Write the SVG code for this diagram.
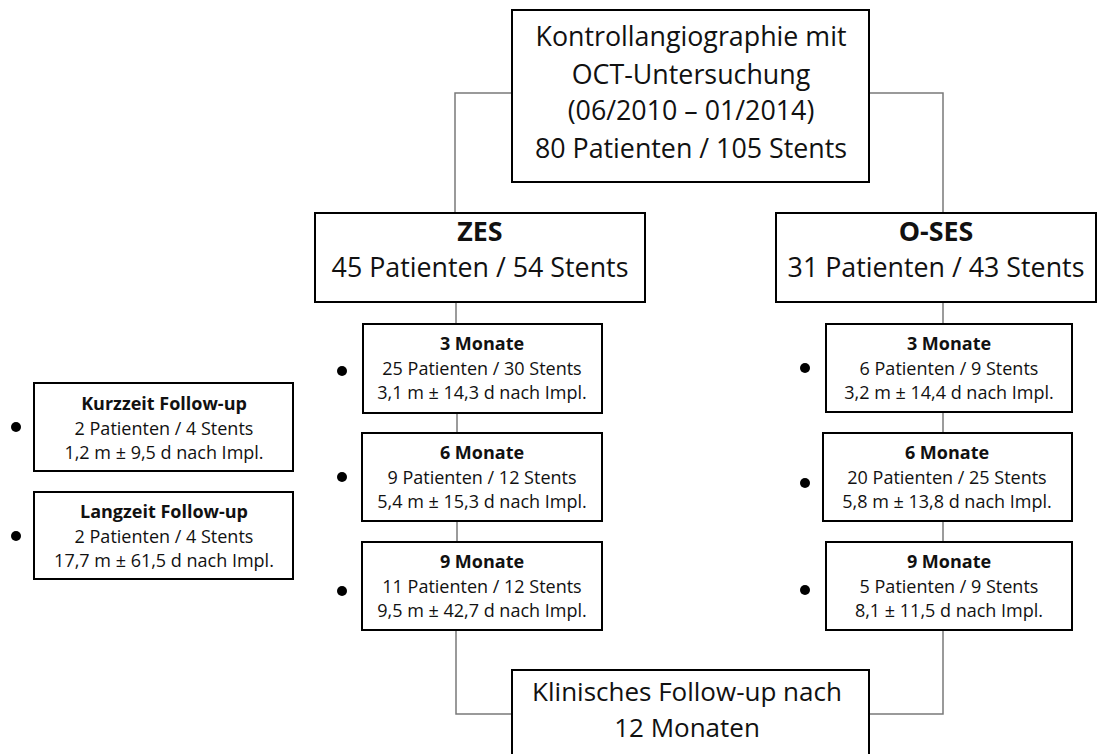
<svg xmlns="http://www.w3.org/2000/svg" width="1101" height="754" viewBox="0 0 1101 754">
<style>
.box{fill:#fff;stroke:#000;stroke-width:2}
.con{fill:none;stroke:#7a7a7a;stroke-width:1.5}
text{font-family:"Open Sans","Noto Sans",sans-serif;fill:#111;text-anchor:middle}
.big{font-size:26.8px}
.bot{font-size:26px}
.sm{font-size:18px}
.b{font-weight:bold}
.dot{fill:#000}
</style>
<rect width="1101" height="754" fill="#fff"/>
<g id="connectors">
<polyline class="con" points="512,93 455,93 455,213"/>
<polyline class="con" points="869,93 943,93 943,213"/>
<line class="con" x1="456" y1="302" x2="456" y2="324"/>
<line class="con" x1="457" y1="413" x2="457" y2="433"/>
<line class="con" x1="457" y1="521" x2="457" y2="542"/>
<polyline class="con" points="456,630 456,714 512,714"/>
<line class="con" x1="943" y1="302" x2="943" y2="324"/>
<line class="con" x1="943" y1="412" x2="943" y2="433"/>
<line class="con" x1="943" y1="521" x2="943" y2="542"/>
<polyline class="con" points="943,630 943,714 869,714"/>
</g>
<g id="top">
<rect class="box" x="512" y="10" width="357" height="172"/>
<text class="big" x="691" y="46">Kontrollangiographie mit</text>
<text class="big" x="691" y="84">OCT-Untersuchung</text>
<text class="big" x="691" y="120">(06/2010 – 01/2014)</text>
<text class="big" x="691" y="158">80 Patienten / 105 Stents</text>
</g>
<g id="zes">
<rect class="box" x="315" y="213" width="330" height="89"/>
<text class="big b" x="480" y="241">ZES</text>
<text class="big" x="480" y="277">45 Patienten / 54 Stents</text>
</g>
<g id="oses">
<rect class="box" x="776" y="213" width="320" height="89"/>
<text class="big b" x="936" y="241">O-SES</text>
<text class="big" x="936" y="277">31 Patienten / 43 Stents</text>
</g>
<g id="zes3">
<circle class="dot" cx="342" cy="371" r="5"/>
<rect class="box" x="363" y="324" width="239" height="89"/>
<text class="sm b" x="482" y="350">3 Monate</text>
<text class="sm" x="482" y="375">25 Patienten / 30 Stents</text>
<text class="sm" x="482" y="399">3,1 m ± 14,3 d nach Impl.</text>
</g>
<g id="zes6">
<circle class="dot" cx="342" cy="477" r="5"/>
<rect class="box" x="362" y="433" width="240" height="88"/>
<text class="sm b" x="482" y="459">6 Monate</text>
<text class="sm" x="482" y="484">9 Patienten / 12 Stents</text>
<text class="sm" x="482" y="508">5,4 m ± 15,3 d nach Impl.</text>
</g>
<g id="zes9">
<circle class="dot" cx="342" cy="591" r="5"/>
<rect class="box" x="362" y="542" width="240" height="88"/>
<text class="sm b" x="482" y="568">9 Monate</text>
<text class="sm" x="482" y="593">11 Patienten / 12 Stents</text>
<text class="sm" x="482" y="617">9,5 m ± 42,7 d nach Impl.</text>
</g>
<g id="oses3">
<circle class="dot" cx="805" cy="368" r="5"/>
<rect class="box" x="826" y="324" width="246" height="88"/>
<text class="sm b" x="949" y="350">3 Monate</text>
<text class="sm" x="949" y="375">6 Patienten / 9 Stents</text>
<text class="sm" x="949" y="399">3,2 m ± 14,4 d nach Impl.</text>
</g>
<g id="oses6">
<circle class="dot" cx="805" cy="483" r="5"/>
<rect class="box" x="823" y="433" width="249" height="88"/>
<text class="sm b" x="947" y="459">6 Monate</text>
<text class="sm" x="947" y="484">20 Patienten / 25 Stents</text>
<text class="sm" x="947" y="508">5,8 m ± 13,8 d nach Impl.</text>
</g>
<g id="oses9">
<circle class="dot" cx="805" cy="590" r="5"/>
<rect class="box" x="826" y="542" width="246" height="88"/>
<text class="sm b" x="949" y="568">9 Monate</text>
<text class="sm" x="949" y="593">5 Patienten / 9 Stents</text>
<text class="sm" x="949" y="617">8,1 ± 11,5 d nach Impl.</text>
</g>
<g id="kurzzeit">
<circle class="dot" cx="16" cy="427" r="5"/>
<rect class="box" x="34" y="383" width="259" height="88"/>
<text class="sm b" x="164" y="410">Kurzzeit Follow-up</text>
<text class="sm" x="164" y="435">2 Patienten / 4 Stents</text>
<text class="sm" x="164" y="459">1,2 m ± 9,5 d nach Impl.</text>
</g>
<g id="langzeit">
<circle class="dot" cx="16" cy="536" r="5"/>
<rect class="box" x="34" y="492" width="259" height="87"/>
<text class="sm b" x="164" y="518">Langzeit Follow-up</text>
<text class="sm" x="164" y="543">2 Patienten / 4 Stents</text>
<text class="sm" x="164" y="567">17,7 m ± 61,5 d nach Impl.</text>
</g>
<g id="klinisch">
<rect class="box" x="512" y="670" width="357" height="100"/>
<text class="bot" x="687" y="701">Klinisches Follow-up nach</text>
<text class="bot" x="687" y="737">12 Monaten</text>
</g>
</svg>
